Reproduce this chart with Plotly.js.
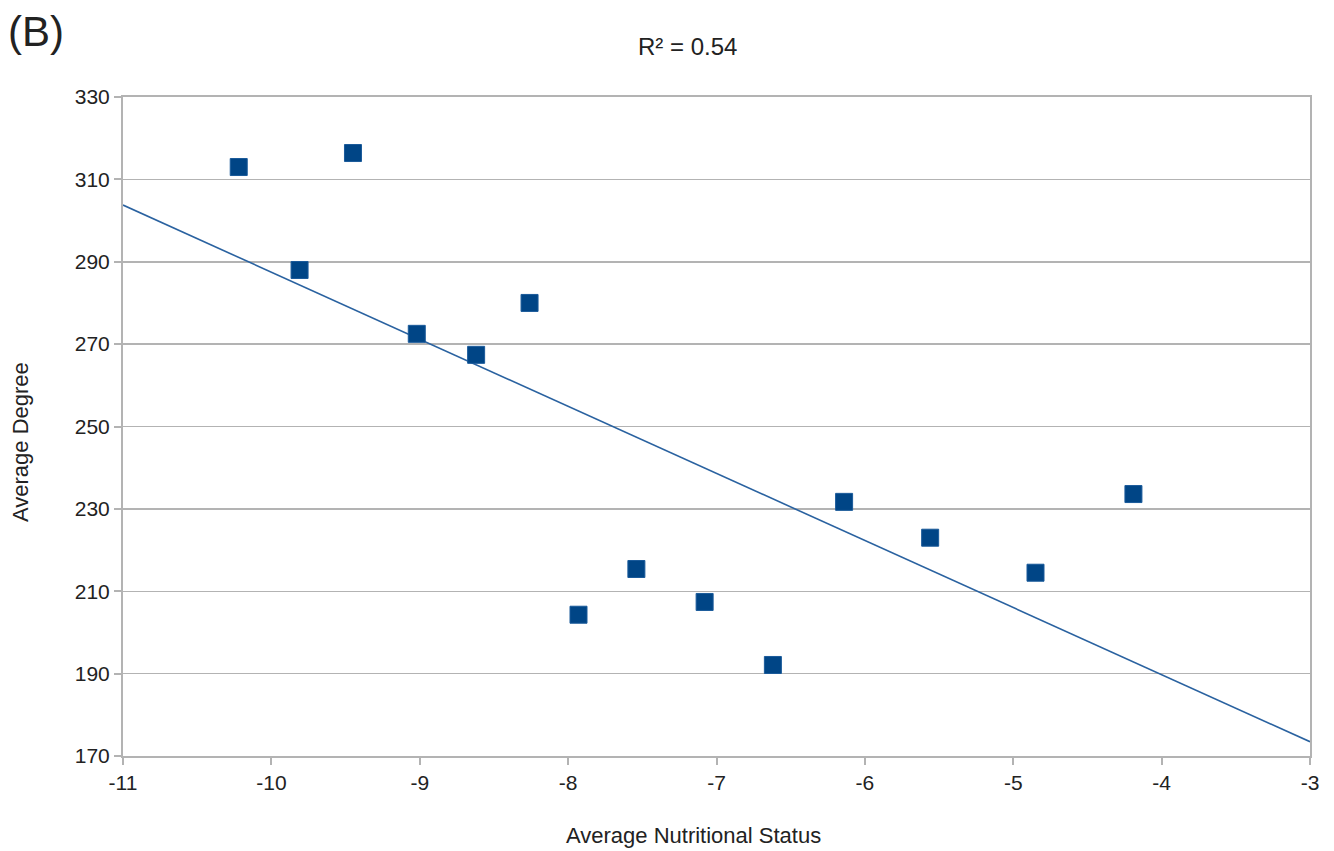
<!DOCTYPE html>
<html>
<head>
<meta charset="utf-8">
<script src="https://cdn.plot.ly/plotly-3.0.1.min.js"></script>
<style>html,body{margin:0;padding:0;background:#fff;}#chart{width:1334px;height:851px;}</style>
</head>
<body>
<div id="chart"></div>
<script>
const nutritionalStatus = [-10.22, -9.81, -9.45, -9.02, -8.62, -8.26, -7.93, -7.54, -7.08, -6.62, -6.14, -5.56, -4.85, -4.19];
const averageDegree = [313.0, 288.0, 316.4, 272.5, 267.4, 280.0, 204.3, 215.4, 207.4, 192.1, 231.7, 223.0, 214.5, 233.6];
const xRange = [-11, -3];
const yTicks = [170, 190, 210, 230, 250, 270, 290, 310, 330];
const xTicks = [-11, -10, -9, -8, -7, -6, -5, -4, -3];
const panelLabel = "(B)";
const titleText = "R² = 0.54";
const xTitle = "Average Nutritional Status";
const yTitle = "Average Degree";

// least-squares trend line computed from the data
const n = nutritionalStatus.length;
const mx = nutritionalStatus.reduce((a, b) => a + b, 0) / n;
const my = averageDegree.reduce((a, b) => a + b, 0) / n;
let sxy = 0, sxx = 0;
for (let i = 0; i < n; i++) {
  sxy += (nutritionalStatus[i] - mx) * (averageDegree[i] - my);
  sxx += (nutritionalStatus[i] - mx) ** 2;
}
const slope = sxy / sxx;
const icpt = my - slope * mx;
const trendX = xRange.slice();
const trendY = trendX.map(x => icpt + slope * x);

const font = {family: "Liberation Sans, Arial, sans-serif", color: "#222"};
const W = 1187, H = 659, L = 123, T = 97;
const px = x => (x - L) / W;
const py = y => 1 - (y - T) / H;

const traces = [
  {x: trendX, y: trendY, mode: "lines", type: "scatter",
   line: {color: "#2a62a0", width: 1.6}, hoverinfo: "skip", showlegend: false},
  {x: nutritionalStatus, y: averageDegree, mode: "markers", type: "scatter",
   marker: {symbol: "square", size: 17, color: "#004586", line: {color: "#1a5a9a", width: 1}},
   showlegend: false}
];

const layout = {
  width: 1334, height: 851,
  margin: {l: 123, r: 24, t: 97, b: 95},
  paper_bgcolor: "#fff", plot_bgcolor: "#fff",
  font: Object.assign({size: 21}, font),
  showlegend: false,
  xaxis: {
    range: xRange, tickvals: xTicks, ticktext: xTicks.map(String),
    showgrid: false, zeroline: false,
    showline: true, linecolor: "#b3b3b3", linewidth: 2, mirror: true,
    ticks: "outside", ticklen: 7, tickcolor: "#b3b3b3", tickwidth: 2,
    tickfont: Object.assign({size: 21}, font)
  },
  yaxis: {
    range: [170, 330], tickvals: yTicks, ticktext: yTicks.map(String),
    showgrid: true, gridcolor: "#b3b3b3", gridwidth: 1.5, zeroline: false,
    showline: true, linecolor: "#b3b3b3", linewidth: 2, mirror: true,
    ticks: "outside", ticklen: 7, tickcolor: "#b3b3b3", tickwidth: 2,
    tickfont: Object.assign({size: 21}, font)
  },
  annotations: [
    {text: panelLabel, xref: "paper", yref: "paper", x: px(6), y: py(32),
     xanchor: "left", yanchor: "middle", showarrow: false,
     font: Object.assign({size: 42}, font)},
    {text: titleText, xref: "paper", yref: "paper", x: px(687), y: py(46),
     xanchor: "center", yanchor: "middle", showarrow: false,
     font: Object.assign({size: 24}, font)},
    {text: xTitle, xref: "paper", yref: "paper", x: px(693), y: py(835),
     xanchor: "center", yanchor: "middle", showarrow: false,
     font: Object.assign({size: 22}, font)},
    {text: yTitle, xref: "paper", yref: "paper", x: px(20), y: py(442),
     xanchor: "center", yanchor: "middle", showarrow: false, textangle: -90,
     font: Object.assign({size: 22}, font)}
  ]
};

Plotly.newPlot("chart", traces, layout, {displayModeBar: false, staticPlot: true});
</script>
</body>
</html>
